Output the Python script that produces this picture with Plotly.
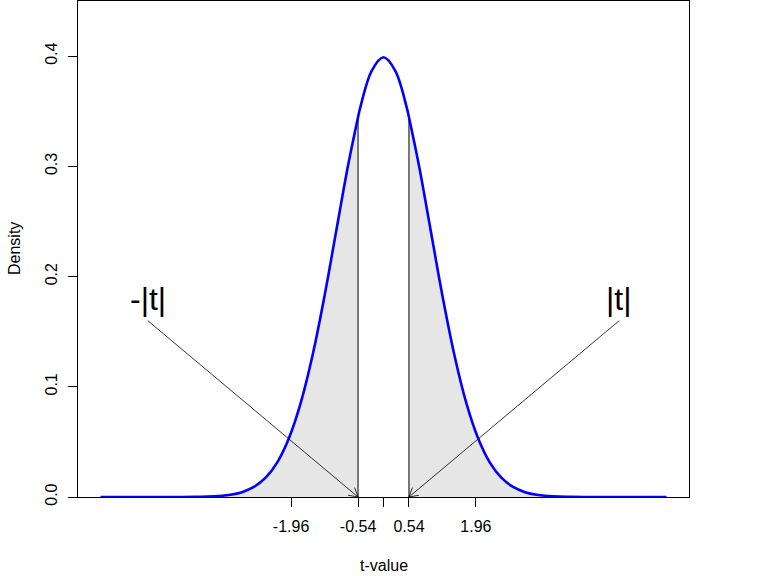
import plotly.graph_objects as go
import math

# ---- data (standard normal density, t-value axis) ----
x_vals = [-6.0, -5.75, -5.5, -5.25, -5.0, -4.75, -4.5, -4.25, -4.0, -3.75, -3.5, -3.25,
          -3.0, -2.75, -2.5, -2.25, -2.0, -1.75, -1.5, -1.25, -1.0, -0.75, -0.54, -0.5,
          -0.25, 0.0, 0.25, 0.5, 0.54, 0.75, 1.0, 1.25, 1.5, 1.75, 2.0, 2.25, 2.5, 2.75,
          3.0, 3.25, 3.5, 3.75, 4.0, 4.25, 4.5, 4.75, 5.0, 5.25, 5.5, 5.75, 6.0]
density = [0.0, 0.0, 0.0, 0.0, 0.0, 0.0, 0.0, 0.0, 0.0001, 0.0004, 0.0009, 0.0020,
           0.0044, 0.0091, 0.0175, 0.0317, 0.0540, 0.0863, 0.1295, 0.1826, 0.2420, 0.3011, 0.3445, 0.3521,
           0.3867, 0.3989, 0.3867, 0.3521, 0.3445, 0.3011, 0.2420, 0.1826, 0.1295, 0.0863, 0.0540, 0.0317, 0.0175, 0.0091,
           0.0044, 0.0020, 0.0009, 0.0004, 0.0001, 0.0, 0.0, 0.0, 0.0, 0.0, 0.0, 0.0, 0.0]
t_obs = 0.54
tick_vals = [-1.96, -0.54, 0.0, 0.54, 1.96]
tick_text = ["-1.96", "-0.54", "", "0.54", "1.96"]
y_ticks = [0.0, 0.1, 0.2, 0.3, 0.4]
y_tick_text = ["0.0", "0.1", "0.2", "0.3", "0.4"]
labels = ["-|t|", "|t|"]
label_x = [-5.0, 5.0]
label_y = 0.18
arrow_start_y = 0.16
arrow_end_x = [-0.54, 0.54]

# ---- layout geometry ----
W, H = 768, 576
ml, mr, mt, mb = 78, 79, 1, 79
xr = [-6.48, 6.48]
yr = [0.0, 0.45]
pw, ph = W - ml - mr, H - mt - mb
sx = pw / (xr[1] - xr[0])
sy = ph / (yr[1] - yr[0])

font = "Liberation Sans, Arial, sans-serif"
fig = go.Figure()

y_at = dict(zip(x_vals, density))
lx = [v for v in x_vals if v <= -t_obs]
ly = [y_at[v] for v in lx]
rx = [v for v in x_vals if v >= t_obs]
ry = [y_at[v] for v in rx]
for xs, ys in [(lx, ly), (rx, ry)]:
    fig.add_trace(go.Scatter(x=xs, y=ys, mode="lines", fill="tozeroy",
                             fillcolor="#e6e6e6", line=dict(color="black", width=1, shape="spline"),
                             hoverinfo="skip", showlegend=False))
for xe in [-t_obs, t_obs]:
    fig.add_trace(go.Scatter(x=[xe, xe], y=[0, y_at[xe]], mode="lines",
                             line=dict(color="black", width=1), showlegend=False))
fig.add_trace(go.Scatter(x=x_vals, y=density, mode="lines",
                         line=dict(color="#0000ff", width=2.6, shape="spline"), showlegend=False))

for sxd, ex in zip(label_x, arrow_end_x):
    x0, y0, x1, y1 = sxd, arrow_start_y, ex, 0.0
    fig.add_trace(go.Scatter(x=[x0, x1], y=[y0, y1], mode="lines",
                             line=dict(color="black", width=0.8), showlegend=False))
    dxp = (x1 - x0) * sx
    dyp = (y1 - y0) * sy
    ang = math.atan2(dyp, dxp)
    L = 10.0
    for a in [ang + math.pi - math.radians(30), ang + math.pi + math.radians(30)]:
        hx = x1 + L * math.cos(a) / sx
        hy = y1 + L * math.sin(a) / sy
        fig.add_trace(go.Scatter(x=[x1, hx], y=[y1, hy], mode="lines",
                                 line=dict(color="black", width=0.8), showlegend=False))

for t, lxv in zip(labels, label_x):
    fig.add_annotation(x=lxv, y=label_y, text=t, showarrow=False,
                       font=dict(family=font, size=32, color="black"),
                       xanchor="center", yanchor="middle")

fig.add_annotation(xref="paper", yref="paper", x=0.5, y=0, yshift=-68, text="t-value",
                   showarrow=False, font=dict(family=font, size=16, color="black"),
                   xanchor="center", yanchor="middle")
fig.add_annotation(xref="paper", yref="paper", x=0, y=0.5, xshift=-64, text="Density",
                   textangle=-90, showarrow=False, font=dict(family=font, size=16, color="black"),
                   xanchor="center", yanchor="middle")

fig.update_layout(
    width=W, height=H, margin=dict(l=ml, r=mr, t=mt, b=mb, autoexpand=False),
    paper_bgcolor="white", plot_bgcolor="white",
    font=dict(family=font, size=16, color="black"),
    showlegend=False,
)
fig.update_xaxes(range=xr, tickvals=tick_vals, ticktext=tick_text, ticks="outside",
                 ticklen=9, tickcolor="black", showline=True, linecolor="black", linewidth=1,
                 mirror=True, showgrid=False, zeroline=False, ticklabelstandoff=6,
                 tickfont=dict(family=font, size=16, color="black"))
fig.update_yaxes(range=yr, tickvals=y_ticks, ticktext=y_tick_text, ticks="outside",
                 ticklen=9, tickcolor="black", showline=True, linecolor="black", linewidth=1,
                 mirror=True, showgrid=False, zeroline=False, tickangle=-90, ticklabelstandoff=5,
                 tickfont=dict(family=font, size=16, color="black"))

fig.write_html("out.html", config={"displayModeBar": False},
               post_script="document.body.style.margin='0';")
